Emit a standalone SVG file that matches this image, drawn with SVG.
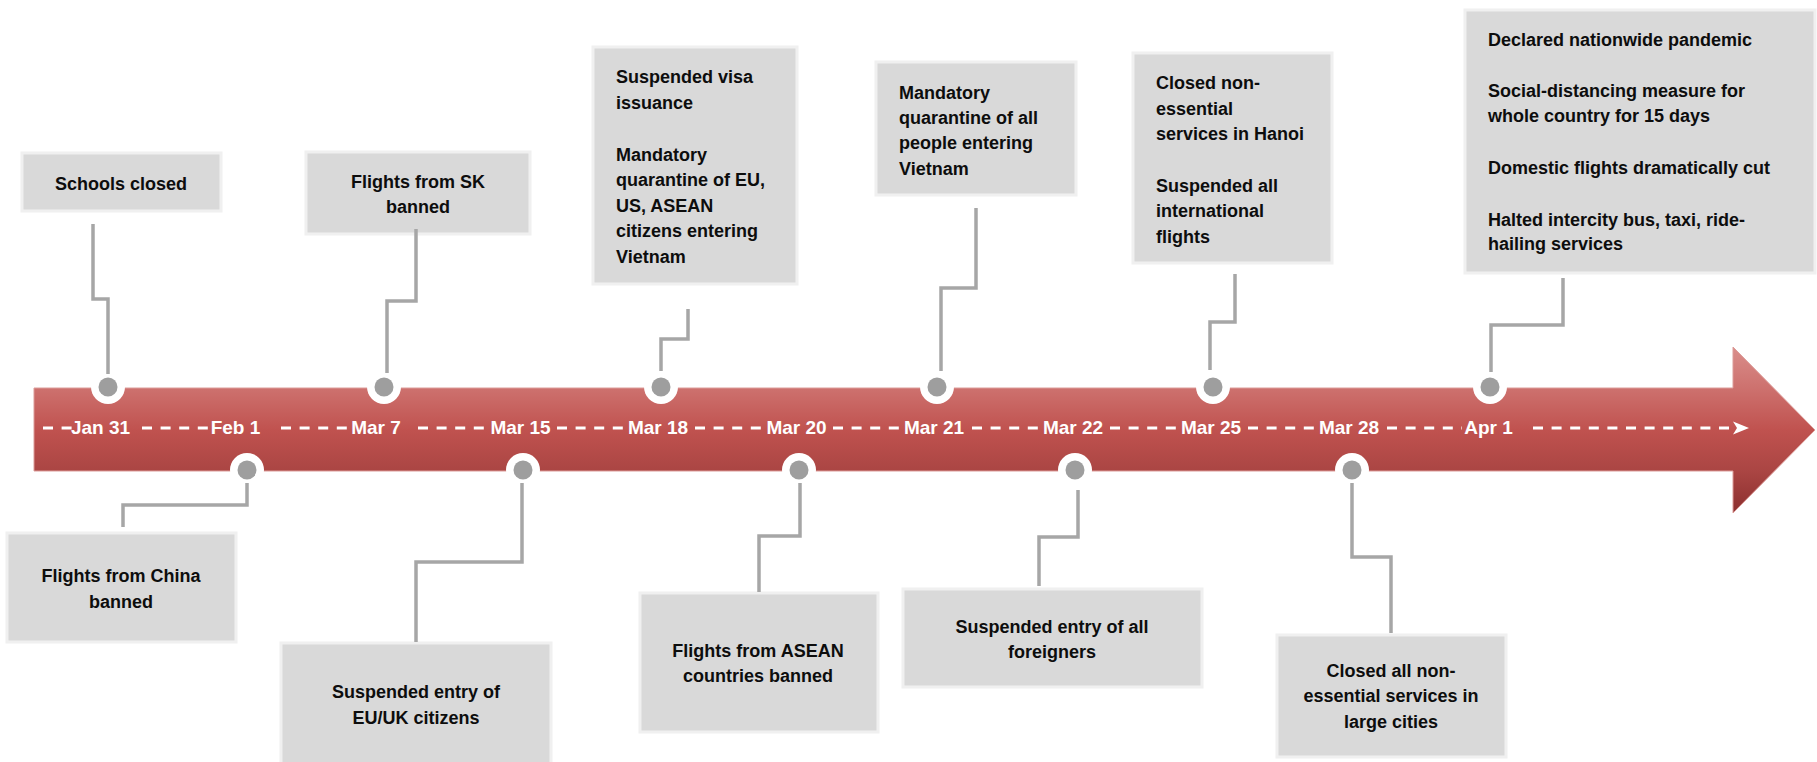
<svg xmlns="http://www.w3.org/2000/svg" width="1817" height="762" viewBox="0 0 1817 762">
<defs>
<linearGradient id="arrowGrad" gradientUnits="userSpaceOnUse" x1="0" y1="347" x2="0" y2="513">
<stop offset="0" stop-color="#da8e8b"/>
<stop offset="0.25" stop-color="#cd716e"/>
<stop offset="0.5" stop-color="#c0524f"/>
<stop offset="0.75" stop-color="#aa4543"/>
<stop offset="1" stop-color="#8c2f2e"/>
</linearGradient>
<style>
.box{fill:#d9d9d9;stroke:#f0f0f0;stroke-width:3}
.bt{font-family:"Liberation Sans",Arial,sans-serif;font-weight:bold;font-size:18px;fill:#0d0d0d}
.c{text-anchor:middle}
.date{font-family:"Liberation Sans",Arial,sans-serif;font-weight:bold;font-size:19px;fill:#ffffff;text-anchor:middle}
.dash{stroke:#ffffff;stroke-width:3;stroke-dasharray:10 8.6;fill:none}
.conn{stroke:#a6a6a6;stroke-width:3.5;fill:none;stroke-linejoin:miter}
.ring{fill:#ffffff}
.dot{fill:#9e9e9e}
</style>
</defs>
<rect width="1817" height="762" fill="#ffffff"/>

<g id="timeline">
<path d="M34,388 H1733 V347 L1815,430 L1733,513 V471 H34 Z" fill="url(#arrowGrad)" stroke="#dc9c99" stroke-width="1"/>
<g id="dashes">
<line class="dash" x1="43" y1="428" x2="72" y2="428"/>
<line class="dash" x1="142" y1="428" x2="208" y2="428"/>
<line class="dash" x1="281" y1="428" x2="347" y2="428"/>
<line class="dash" x1="418" y1="428" x2="486" y2="428"/>
<line class="dash" x1="557" y1="428" x2="623" y2="428"/>
<line class="dash" x1="695" y1="428" x2="761" y2="428"/>
<line class="dash" x1="833" y1="428" x2="899" y2="428"/>
<line class="dash" x1="972" y1="428" x2="1039" y2="428"/>
<line class="dash" x1="1110" y1="428" x2="1176" y2="428"/>
<line class="dash" x1="1248" y1="428" x2="1314" y2="428"/>
<line class="dash" x1="1387" y1="428" x2="1462" y2="428"/>
<line class="dash" x1="1533" y1="428" x2="1735" y2="428"/>
<path d="M1733,421.5 L1749,428 L1733,434.5 L1737,428 Z" fill="#ffffff"/>
</g>
<g id="dates">
<text class="date" x="100.5" y="434">Jan 31</text>
<text class="date" x="235.5" y="434">Feb 1</text>
<text class="date" x="376" y="434">Mar 7</text>
<text class="date" x="520.5" y="434">Mar 15</text>
<text class="date" x="658" y="434">Mar 18</text>
<text class="date" x="796.5" y="434">Mar 20</text>
<text class="date" x="934" y="434">Mar 21</text>
<text class="date" x="1073" y="434">Mar 22</text>
<text class="date" x="1211" y="434">Mar 25</text>
<text class="date" x="1349" y="434">Mar 28</text>
<text class="date" x="1488.5" y="434">Apr 1</text>
</g>
<g id="dots">
<circle class="ring" cx="108" cy="387" r="17"/><circle class="dot" cx="108" cy="387" r="9.5"/>
<circle class="ring" cx="384" cy="387" r="17"/><circle class="dot" cx="384" cy="387" r="9.5"/>
<circle class="ring" cx="661" cy="387" r="17"/><circle class="dot" cx="661" cy="387" r="9.5"/>
<circle class="ring" cx="937" cy="387" r="17"/><circle class="dot" cx="937" cy="387" r="9.5"/>
<circle class="ring" cx="1213" cy="387" r="17"/><circle class="dot" cx="1213" cy="387" r="9.5"/>
<circle class="ring" cx="1490" cy="387" r="17"/><circle class="dot" cx="1490" cy="387" r="9.5"/>
<circle class="ring" cx="247" cy="470" r="17"/><circle class="dot" cx="247" cy="470" r="9.5"/>
<circle class="ring" cx="523" cy="470" r="17"/><circle class="dot" cx="523" cy="470" r="9.5"/>
<circle class="ring" cx="799" cy="470" r="17"/><circle class="dot" cx="799" cy="470" r="9.5"/>
<circle class="ring" cx="1075" cy="470" r="17"/><circle class="dot" cx="1075" cy="470" r="9.5"/>
<circle class="ring" cx="1352" cy="470" r="17"/><circle class="dot" cx="1352" cy="470" r="9.5"/>
</g>
</g>

<g id="node-jan31">
<rect class="box" x="22" y="153" width="199" height="58"/>
<text class="bt c" x="121" y="190">Schools closed</text>
</g>
<g id="node-mar7">
<rect class="box" x="306" y="152" width="224" height="82"/>
<text class="bt c" x="418" y="188">Flights from SK</text>
<text class="bt c" x="418" y="213">banned</text>
</g>
<g id="node-mar18">
<rect class="box" x="593" y="47" width="204" height="237"/>
<text class="bt" x="616" y="83">Suspended visa</text>
<text class="bt" x="616" y="109">issuance</text>
<text class="bt" x="616" y="161">Mandatory</text>
<text class="bt" x="616" y="186">quarantine of EU,</text>
<text class="bt" x="616" y="212">US, ASEAN</text>
<text class="bt" x="616" y="237">citizens entering</text>
<text class="bt" x="616" y="263">Vietnam</text>
</g>
<g id="node-mar21">
<rect class="box" x="876" y="62" width="200" height="133"/>
<text class="bt" x="899" y="99">Mandatory</text>
<text class="bt" x="899" y="124">quarantine of all</text>
<text class="bt" x="899" y="149">people entering</text>
<text class="bt" x="899" y="175">Vietnam</text>
</g>
<g id="node-mar25">
<rect class="box" x="1133" y="53" width="199" height="210"/>
<text class="bt" x="1156" y="89">Closed non-</text>
<text class="bt" x="1156" y="115">essential</text>
<text class="bt" x="1156" y="140">services in Hanoi</text>
<text class="bt" x="1156" y="192">Suspended all</text>
<text class="bt" x="1156" y="217">international</text>
<text class="bt" x="1156" y="243">flights</text>
</g>
<g id="node-apr1">
<rect class="box" x="1465" y="10" width="350" height="263"/>
<text class="bt" x="1488" y="46">Declared nationwide pandemic</text>
<text class="bt" x="1488" y="97">Social-distancing measure for</text>
<text class="bt" x="1488" y="122">whole country for 15 days</text>
<text class="bt" x="1488" y="174">Domestic flights dramatically cut</text>
<text class="bt" x="1488" y="226">Halted intercity bus, taxi, ride-</text>
<text class="bt" x="1488" y="250">hailing services</text>
</g>
<g id="node-feb1">
<rect class="box" x="7" y="533" width="229" height="109"/>
<text class="bt c" x="121" y="582">Flights from China</text>
<text class="bt c" x="121" y="608">banned</text>
</g>
<g id="node-mar15">
<rect class="box" x="281" y="643" width="270" height="122"/>
<text class="bt c" x="416" y="698">Suspended entry of</text>
<text class="bt c" x="416" y="724">EU/UK citizens</text>
</g>
<g id="node-mar20">
<rect class="box" x="640" y="593" width="238" height="139"/>
<text class="bt c" x="758" y="657">Flights from ASEAN</text>
<text class="bt c" x="758" y="682">countries banned</text>
</g>
<g id="node-mar22">
<rect class="box" x="903" y="589" width="299" height="98"/>
<text class="bt c" x="1052" y="633">Suspended entry of all</text>
<text class="bt c" x="1052" y="658">foreigners</text>
</g>
<g id="node-mar28">
<rect class="box" x="1277" y="635" width="229" height="122"/>
<text class="bt c" x="1391" y="677">Closed all non-</text>
<text class="bt c" x="1391" y="702">essential services in</text>
<text class="bt c" x="1391" y="728">large cities</text>
</g>

<g id="connectors">
<path class="conn" d="M93,224 V299 H108 V374"/>
<path class="conn" d="M416,229 V301 H387 V373"/>
<path class="conn" d="M688,309 V339 H661 V371"/>
<path class="conn" d="M976,208 V288 H941 V371"/>
<path class="conn" d="M1235,274 V322 H1210 V370"/>
<path class="conn" d="M1563,278 V325 H1491 V372"/>
<path class="conn" d="M247,483 V505 H123 V527"/>
<path class="conn" d="M522,483 V562 H416 V642"/>
<path class="conn" d="M800,483 V536 H759 V592"/>
<path class="conn" d="M1078,490 V537 H1039 V586"/>
<path class="conn" d="M1352,483 V557 H1391 V633"/>
</g>
</svg>
